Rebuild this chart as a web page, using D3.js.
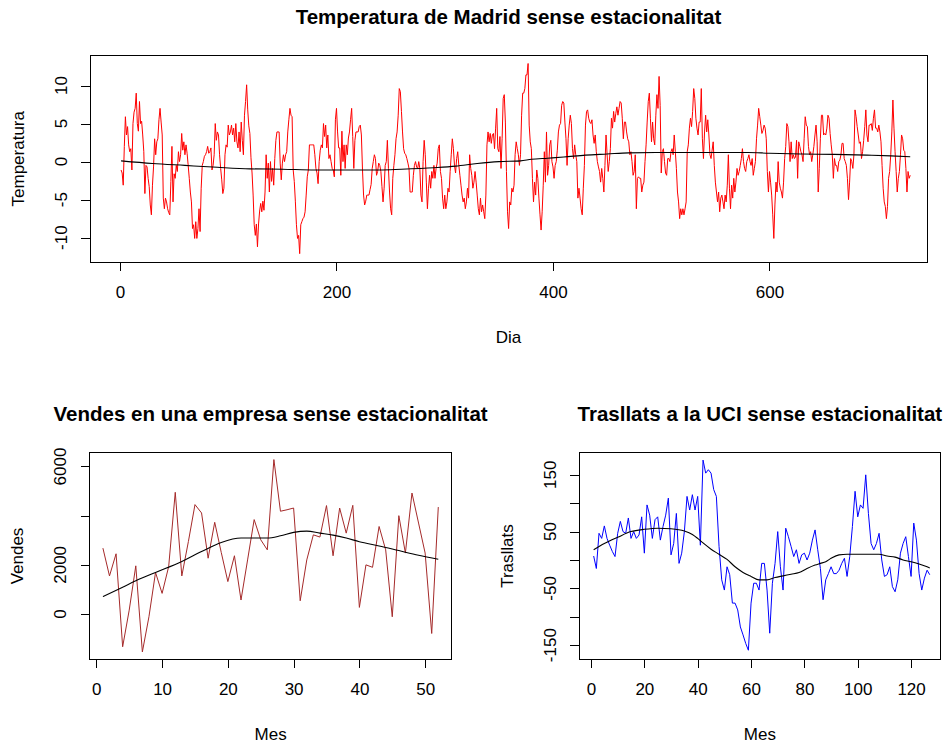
<!DOCTYPE html>
<html>
<head>
<meta charset="utf-8">
<script src="https://cdn.jsdelivr.net/npm/d3@7"></script>
<style>
body { margin: 0; background: #fff; }
text { font-family: "Liberation Sans", Arial, sans-serif; fill: #000; }
</style>
</head>
<body>
<div id="chart"></div>
<script>
"use strict";

//#region Data
// Temperatura de Madrid sense estacionalitat (dia 1..730)
const tempValues = [
    -1.1, -1.5, -3.1, 2, 5.9, 3.5, 4.6, 2.2, 1.3, 1.7,
    -1.1, 5, 6.5, 7, 9, 5, 4, 7.9, 5, 5.3,
    3.5, 1.3, -4.2, -0.5, -0.7, -2.2, -3.3, -5.7, -7, -3.1,
    -0.7, 3, 0.9, 2.6, 3, 5.5, 7, 5.2, 3.5, -4.8,
    -6.2, -4.8, -5.3, -6.2, -6.7, -7, -2.6, 2, -5.3, -1.6,
    -2.2, -0.5, -1.3, 1.3, 0, 0.9, 3.7, 1.5, 2.6, 0.9,
    2.2, 1.1, -0.5, -2.2, -4, -5.3, -8.8, -8.3, -10.1, -7.9,
    -10.1, -8.8, -6.2, -9.2, -3.5, -0.5, 0, 0.7, 0.9, 1.3,
    2, 1.1, 1.3, 1.8, -1.1, -0.5, 0.9, 5, 2.8, 3.9,
    3.5, 0.9, -0.9, -2.4, -4.2, -3.5, 0.9, 2.2, 1.9, 4.8,
    3.5, 3.9, 4.8, 3.5, 4.4, 2.6, 5, 2.6, 1.8, 3.9,
    1.3, 5.2, 2.8, 0.9, 6.1, 7.9, 10.1, 6.8, 4.7, 3.7,
    0.5, -1.5, -4.4, -8.3, -9.7, -8.2, -11.2, -8.2, -6.5, -5.5,
    -6.6, -5.2, -6.4, -4, 0.9, -2.2, -0.2, -4, 0, -2.6,
    -0.9, -3.1, 0.4, 2.8, 3.9, 3.9, 3.9, -0.2, -2.4, -0.2,
    0.9, 0, 0.9, 1.3, 3.9, 5.5, 7, 6.1, 5.9, -1.1,
    -2.6, -5.2, -8.3, -10.1, -9.7, -12.1, -8.3, -7.9, -7.5, -7.3,
    -6.6, -4.4, -2, -1.1, 2.2, 2.2, 2.2, 2.2, 2.2, 0.9,
    -0.9, -1.5, -2.9, 0, 1.5, 2.2, 1.8, 5, 3.3, 4.8,
    1.8, 3.5, 0.4, 0.9, 0, -0.9, -1.1, -2, 5.5, 7,
    3.9, 1.8, 1.8, -1.8, 4, 0, 2.2, -0.9, 2.2, 0.9,
    3.1, 3.9, 5.5, 7, 3.3, -0.9, 2.8, 3.9, 3.9, 3.9,
    4.6, 4.8, 3.5, -1, -4.4, -5.7, -5.2, -4.4, -4.4, -4.4,
    -3.7, -3, -0.9, 0, 0.9, 0.4, -1.8, -1.3, -0.2, -0.5,
    -1.3, -3.3, -5.3, -3.5, -0.5, 0, 2.8, -0.9, -4, -6.2,
    -7, -2.2, -0.5, 0.9, 3, 3.9, 6.1, 9.6, 9.2, 6.6,
    3.9, 1.7, 1.1, 0.9, 0.4, -0.2, -0.9, -4, -4, -4,
    -1.8, -0.5, 0, -0.7, -0.9, 0, -0.9, -4.4, -5.3, 0,
    2.8, 0.9, -2.7, -6.2, -3.5, -1.8, -3.5, -1.3, -2.2, -0.5,
    -2.2, -0.9, -0.2, 1.7, 2.2, -1.3, -2.2, -4.8, -6.2, -4.4,
    -6.2, -5.3, -3.5, -4, -1.3, 0.9, 3, 1.7, -0.5, -1.5,
    0.4, 1.3, -0.5, -1.8, -3.1, -4.4, -5.3, -4.8, -6.2, -5.3,
    -3.5, -4.8, 0.9, -0.9, -1.8, -3.5, -2.7, -1.3, -2.7, -4.4,
    -6.2, -7, -4.8, -6.6, -5.7, -6.6, -7.5, -4.4, 2.2, 3.9,
    2.6, 3.7, 2.4, 3.5, 3.7, 1.7, 4.4, 7, 1.7, 1.3,
    3.3, -0.9, 3, 8.3, 8.8, 5.2, -1.3, -6.6, -8.8, -5.3,
    -5.7, -3.5, -4, -3.1, 0.9, 2.6, 1.7, 0.9, -0.5, 0.9,
    6.1, 9, 9, 9.6, 11.4, 11.4, 12.9, 4.8, 2.6, 1.7,
    -2.2, -5.3, -2.7, -4.4, -1.1, -2.2, -4.8, -7, -9, -6.6,
    -3.1, 1.3, -2.7, 3.9, -1.8, -0.5, 2.2, 2.8, 0, -0.7,
    -2.2, -0.5, 0, 1.5, 3.9, 4.8, 5, 7.4, 7.9, 7.7,
    5.2, 3, -0.5, 3, 4.8, 6.1, 5, 1.7, 0.4, 2.2,
    0.9, 0, -4.8, -3.5, -4.8, -6.2, -7, -3.5, -0.5, 4.8,
    6.6, 6.8, 5.7, 5.2, 5, 5.5, 3.5, 2.4, 3.5, 1.3,
    0, -0.7, -1.3, -2.7, -0.9, -2.2, -4, -0.5, 3.5, 0.9,
    -1.3, 0, 1.7, 5.7, 4.4, 6.6, 5.2, 6.3, 7.2, 6.1,
    7, 7.9, 7.7, 5.7, 3, 5.2, 5.2, 3.9, 3, 2.6,
    0.9, 1.3, 0, -1.8, -1.3, 0.9, -6.2, -2.2, -2, -2.2,
    -2.2, -4, -3.1, -2.7, 0, 2.2, 5.2, 7.9, 9, 5.7,
    2.6, 5.2, 3, 2.2, 6.1, 8.8, 7, 11.2, 7.4, -1.5,
    1.3, 1.7, 0, -1.5, -1.8, 0.4, 0.4, 0, 1.3, 1.7,
    0.9, 3.5, 1.3, -0.9, -4, -5.3, -7.5, -6.2, -7, -6.2,
    -7, -6.2, -5.3, 1.3, 2.2, 4.4, 5.7, 4.6, 6.6, 9.6,
    8.3, 5.7, 4.4, 3.5, 5.2, 5.2, 9.6, 3, 0.4, 3.9,
    6.1, 3.9, 5.5, 3.5, 0.9, 0.4, 1.5, 2.6, -0.5, -2.7,
    -4, -5.3, -4, -6.6, -4.8, -4.4, -5.3, -6.2, -4.4, -5.3,
    -3.1, 0.9, -3.5, -6.2, -3.1, -4.8, -2.2, -4, -2.7, -0.9,
    -1.8, -1.3, -0.5, 0.4, 1.7, 0, -0.9, -1.3, 0, 0.4,
    0.9, 0, -0.5, 0.4, -1.8, -0.9, 0, 3, 4.8, 7,
    5.9, 4.8, 3.7, 4.1, 4.8, 4.4, 3, -1.3, -4, -1.3,
    -2.7, -4.4, -7, -10.1, -5.7, -2.7, -4, 0, -2.7, -3.5,
    -4, -4.8, -2.7, 0.4, 2, 5, 4.6, 2.6, 0, 2.6,
    0.4, 0.9, 0.4, 0.6, 2.8, -2.2, 2.6, 2, 1.3, 0.9,
    0, 3, 5.9, 4.8, 4.6, 2, 0.9, 1.3, 0, 0.9,
    2, 3.5, 4.8, 2.6, -4, -0.9, 3, 6.1, 6.1, 3.5,
    3.7, 3.5, 4.4, 6.1, 5.7, 3.7, 2.2, 0.9, -2.2, 0.4,
    -0.5, -0.5, -1.3, 0, 0.2, 0.9, 2.4, 2.4, 0.4, 0,
    -0.5, -2.2, -5, -2.7, 0.4, 0, -0.9, 0.9, 6.8, 5.9,
    4.6, 3.5, 2.4, 2.6, 0.4, 1.3, 2.8, 4.6, 6.8, 3.5,
    2.6, 4.8, 4.8, 5, 4.1, 5.7, 6.8, 4.4, 4.4, 3.9,
    4.8, 3.9, 2.6, -0.5, -3.5, -5.3, -5.9, -7.5, -5.9, -2.2,
    -1.3, 0.9, 3.9, 8.1, 4.4, 1.3, -1.3, -4, -2.2, -1.3,
    0.9, 3.5, 3, 1.5, 1.3, -0.9, -4, -1.3, -2.2, -1.8
];
const tempDays = tempValues.map((v, i) => i + 1);
const tempTrendDays = [1, 30, 60, 90, 120, 150, 180, 210, 240, 260, 290, 310, 330, 350, 370, 380, 395, 410, 430, 450, 470, 495, 520, 550, 580, 600, 630, 660, 690, 712, 730];
const tempTrend = [0.1, -0.25, -0.5, -0.75, -0.95, -1.0, -1.1, -1.1, -1.1, -1.0, -0.8, -0.6, -0.25, 0, 0.1, 0.3, 0.45, 0.6, 0.85, 1.0, 1.15, 1.2, 1.2, 1.2, 1.2, 1.1, 1.0, 0.95, 0.85, 0.75, 0.64];

// Vendes en una empresa sense estacionalitat (mes 1..52)
const salesValues = [
    2680, 1550, 2450, -1330, 160, 1960, -1540, -110, 1690, 840,
    1930, 4950, 1550, 2950, 4450, 4110, 2270, 3730, 2500, 1320,
    2370, 570, 2200, 3840, 3020, 2610, 6280, 4180, 4240, 4310,
    540, 2200, 3220, 3130, 4410, 2370, 4310, 3290, 4420, 270,
    2000, 1900, 3560, 2610, -110, 4000, 2480, 4920, 3700, 2480,
    -790, 4350
];
const salesMonths = salesValues.map((v, i) => i + 1);
const salesTrendMonths = [1, 4, 6, 9, 13, 16, 19, 22, 24, 26, 28, 30, 32, 34, 36, 38, 40, 43, 46, 49, 52];
const salesTrend = [710, 1090, 1350, 1690, 2140, 2540, 2910, 3090, 3090, 3090, 3180, 3320, 3370, 3290, 3210, 3090, 2940, 2770, 2580, 2390, 2230];

// Trasllats a la UCI sense estacionalitat (mes 1..127)
const uciValues = [
    7, -15, 47, 38, 60, 38, 26, 15, 6, 47,
    68, 50, 47, 74, 38, 50, 38, 44, 76, 12,
    97, 79, 38, 71, 76, 35, 59, 79, 109, 9,
    29, 82, -6, 12, 50, 112, 88, 115, 88, 112,
    26, 176, 153, 159, 153, 124, 112, 24, -35, -53,
    -12, -26, -76, -76, -88, -118, -132, -147, -159, -76,
    -41, -41, -53, -6, -6, -53, -129, -41, -6, 50,
    -12, -53, 56, 41, 24, 6, 18, -6, 9, 12,
    0, 12, 35, 53, 18, -15, -70, -35, -24, -12,
    -24, -24, -18, -6, 3, -29, 6, 59, 121, 76,
    97, 91, 150, 82, 29, 18, 29, 47, 0, -29,
    -26, -12, -47, -56, -35, 12, 29, 41, 6, -29,
    65, 35, -24, -53, -32, -18, -26
];
const uciMonths = uciValues.map((v, i) => i + 1);
const uciTrendMonths = [1, 5, 10, 15, 20, 25, 30, 35, 38, 40, 42, 45, 48, 51, 54, 57, 60, 63, 66, 69, 72, 75, 78, 81, 84, 86, 88, 90, 93, 96, 100, 104, 108, 111, 114, 117, 120, 123, 126, 127];
const uciTrend = [18, 29, 40, 50, 54, 56, 55, 51, 45, 38, 30, 19, 10, 1, -12, -22, -29, -35, -35, -31, -28, -25, -22, -15, -9, -6, -3, 3, 9, 10, 10, 10, 10, 7, 5, 0, -3, -7, -12, -14];
//#endregion

const svg = d3.select("#chart")
    .append("svg")
    .attr("width", 945)
    .attr("height", 745);

const drawPanel = (p) => {
    const x = d3.scaleLinear().domain(p.xDomain).range([p.left, p.right]);
    const y = d3.scaleLinear().domain(p.yDomain).range([p.bottom, p.top]);
    const g = svg.append("g");

    // Series
    g.append("path")
        .datum(p.values)
        .attr("fill", "none")
        .attr("stroke", p.color)
        .attr("stroke-width", 1)
        .attr("d", d3.line().x((d, i) => x(p.xs[i])).y(d => y(d)));

    // Trend
    g.append("path")
        .datum(p.trend)
        .attr("fill", "none")
        .attr("stroke", "#000")
        .attr("stroke-width", 1.1)
        .attr("d", d3.line().curve(d3.curveMonotoneX).x((d, i) => x(p.trendXs[i])).y(d => y(d)));

    // Box
    g.append("rect")
        .attr("x", p.left)
        .attr("y", p.top)
        .attr("width", p.right - p.left)
        .attr("height", p.bottom - p.top)
        .attr("fill", "none")
        .attr("stroke", "#000")
        .attr("shape-rendering", "crispEdges");

    // X axis
    const xAxis = g.append("g")
        .attr("transform", `translate(0,${p.bottom})`)
        .call(d3.axisBottom(x).tickValues(p.xTicks).tickSize(9).tickPadding(15).tickFormat(d => String(d)));
    xAxis.select(".domain").remove();
    xAxis.selectAll("line").attr("shape-rendering", "crispEdges");
    xAxis.selectAll("text").attr("font-size", 17).attr("font-family", null);

    // Y axis (ticks only, labels drawn rotated like R)
    const yAxis = g.append("g")
        .attr("transform", `translate(${p.left},0)`)
        .call(d3.axisLeft(y).tickValues(p.yTicks).tickSize(9).tickFormat(""));
    yAxis.select(".domain").remove();
    yAxis.selectAll("line").attr("shape-rendering", "crispEdges");

    g.selectAll(".ylab")
        .data(p.yLabels)
        .enter().append("text")
        .attr("class", "ylab")
        .attr("x", p.left - 29)
        .attr("y", d => y(d))
        .attr("dy", "0.35em")
        .attr("text-anchor", "middle")
        .attr("font-size", 17)
        .attr("transform", d => `rotate(-90,${p.left - 29},${y(d)})`)
        .text(d => String(d));

    // Titles
    const midX = (p.left + p.right) / 2;
    const midY = (p.top + p.bottom) / 2;
    g.append("text")
        .attr("x", midX)
        .attr("y", p.top - 39)
        .attr("dy", "0.35em")
        .attr("text-anchor", "middle")
        .attr("font-size", 20.5)
        .attr("font-weight", "bold")
        .text(p.title);
    g.append("text")
        .attr("x", midX)
        .attr("y", p.bottom + 75)
        .attr("dy", "0.35em")
        .attr("text-anchor", "middle")
        .attr("font-size", 17)
        .text(p.xTitle);
    g.append("text")
        .attr("x", p.left - 72)
        .attr("y", midY)
        .attr("dy", "0.35em")
        .attr("text-anchor", "middle")
        .attr("font-size", 17)
        .attr("transform", `rotate(-90,${p.left - 72},${midY})`)
        .text(p.yTitle);
};

drawPanel({
    left: 90, right: 927, top: 55.5, bottom: 262,
    xDomain: [-27.7, 745.5], yDomain: [-13.2, 13.95],
    xs: tempDays, values: tempValues, color: "#ff0000",
    trendXs: tempTrendDays, trend: tempTrend,
    xTicks: [0, 200, 400, 600], yTicks: [-10, -5, 0, 5, 10], yLabels: [-10, -5, 0, 5, 10],
    title: "Temperatura de Madrid sense estacionalitat", xTitle: "Dia", yTitle: "Temperatura"
});

drawPanel({
    left: 89.5, right: 451.7, top: 452.7, bottom: 659.3,
    xDomain: [-1.04, 54.04], yDomain: [-1840, 6560],
    xs: salesMonths, values: salesValues, color: "#a52a2a",
    trendXs: salesTrendMonths, trend: salesTrend,
    xTicks: [0, 10, 20, 30, 40, 50], yTicks: [0, 2000, 4000, 6000], yLabels: [0, 2000, 6000],
    title: "Vendes en una empresa sense estacionalitat", xTitle: "Mes", yTitle: "Vendes"
});

drawPanel({
    left: 579, right: 940.7, top: 452.7, bottom: 659.3,
    xDomain: [-4.5, 131.1], yDomain: [-175, 189],
    xs: uciMonths, values: uciValues, color: "#0000ff",
    trendXs: uciTrendMonths, trend: uciTrend,
    xTicks: [0, 20, 40, 60, 80, 100, 120], yTicks: [-150, -100, -50, 0, 50, 100, 150], yLabels: [-150, -50, 50, 150],
    title: "Trasllats a la UCI sense estacionalitat", xTitle: "Mes", yTitle: "Trasllats"
});
</script>
</body>
</html>
